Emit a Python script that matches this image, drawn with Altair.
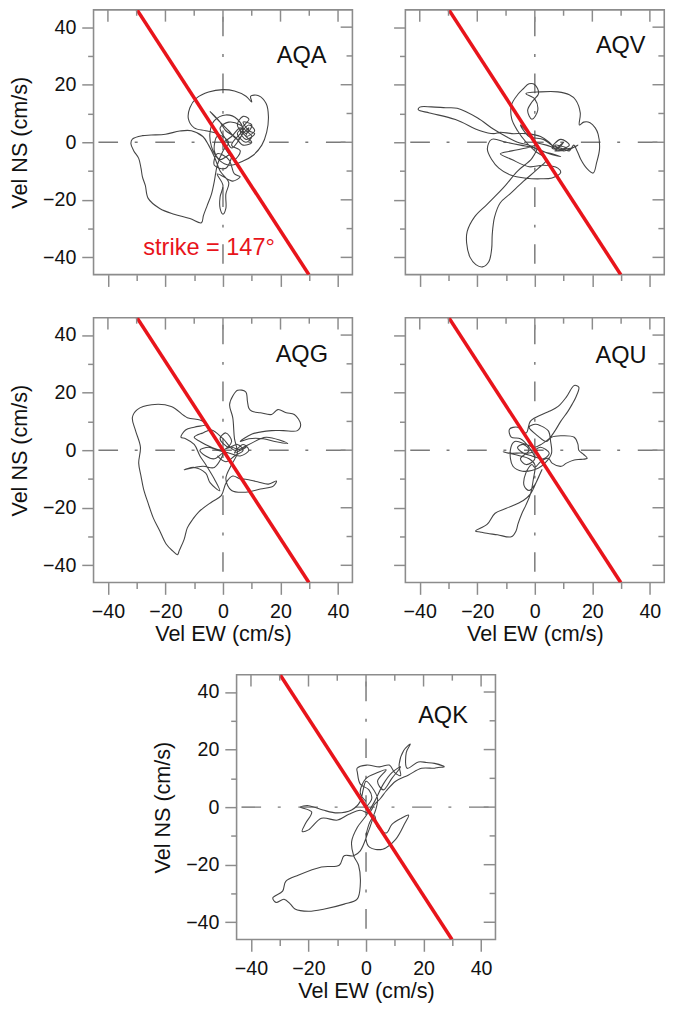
import math
import altair as alt
import pandas as pd

# ---------------- data (cm/s) ----------------
STATIONS = ["AQA", "AQV", "AQG", "AQU", "AQK"]

AQA_PATH = [
    (0, 0), (3, 2), (6, 5), (8, 3), (10, 6), (7, 7), (9, 4), (11, 3), (8, 1), (6, 4), (9, 8), (7, 9),
    (5, 6), (8, 2), (10, 0), (7, -1), (4, 2), (1, 4), (-1, 7), (-4.5, 10.7), (-2, 8), (2, 4), (5, 1),
    (7, 3), (9, 5), (8, 2), (11, 4), (9, 6), (6, 3), (3, -1), (6, -3), (4, -6), (2, -4), (-2, 2),
    (-3, -3), (-1, -6), (3, -4), (1, -9), (-3, -8), (-2, -4), (2, -6), (4, -11), (6, -12), (3.4, -13.5),
    (2, -13), (-2, -11), (0, -15), (-1, -19), (-1, -23), (0, -25), (1, -23), (1, -18), (2, -14), (-1, -10),
    (-3, -5), (-5, -1), (-7, 2), (-11, 4), (-15, 3.9), (-20, 2.8), (-25, 2.5), (-28, 2.3), (-31.5, 1.1),
    (-32, -0.5), (-31, -3), (-29.3, -5.6), (-28.5, -9), (-28, -12), (-27, -15), (-26, -19.5), (-22, -23),
    (-17, -25), (-11.5, -26.5), (-7.5, -28), (-6.8, -25.5), (-5.5, -22), (-4, -18), (-3, -13.5), (-2, -8),
    (0, -3), (2, 0), (-2, 3), (-6, 4), (-10, 5), (-12, 8), (-11.5, 12), (-9, 15.5), (-5, 17.5), (0, 18.3),
    (4, 17.8), (8, 16), (10, 14), (9.6, 16), (12.4, 16.2), (15, 13.5), (15.8, 9), (15.2, 3.5), (13.5, -1),
    (10.5, -4.5), (7, -6.5), (2.5, -8), (-1.5, -6), (-4, -1.5), (-4.5, 3.5), (-3, 7.5), (1, 9.5), (5, 8),
    (7, 4), (5, 0), (3, -2), (1, 1), (-1, 5), (2, 7), (6, 6), (8, 4), (10, 2), (8, 0), (5, 3), (7, 5),
]

AQV_PATH = [
    (0, 0), (4, -1), (8, -2), (10, 0), (7, -3), (12, -1), (9, 1), (6, -2), (13, -2), (15, -1), (10, -3),
    (7, -1), (11, -2), (8, -3), (5, 0), (2, 2), (-3, 3), (-8, 3), (-12, 3.5), (-14.3, 3), (-19, 4),
    (-27.6, 7.9), (-36.6, 10.2), (-40.5, 11.3), (-40, 12.2), (-36, 12.3), (-31, 12), (-27, 11.8),
    (-20, 8.5), (-14.3, 4.5), (-10, 2), (-6, 0), (-2, -1), (2, -3), (6, -4), (9, -5), (5, -4), (0, -2),
    (-5, -1), (-10, 0), (-15, 1), (-16.5, -2.3), (-15, -6), (-12.5, -9), (-8.7, -11.3), (-3, -12.5),
    (2, -12.7), (6, -12.4), (9, -10.5), (8, -9), (3, -8), (-2, -8.5), (-8, -6), (-12, -4), (-8, -3),
    (-3, -2), (1, -1), (-1, -5.6), (-6, -10), (-10.9, -15.8), (-16.5, -21.5), (-21, -26), (-23.5, -31),
    (-23.7, -35), (-22.5, -40), (-20.5, -42.5), (-18.2, -43.3), (-16, -41.5), (-15, -37), (-14.8, -32),
    (-14, -26), (-12, -21), (-8.7, -18), (-4, -13.6), (1.3, -9), (4, -6), (0, -3), (-3, 0), (-6, 4),
    (-8, 8), (-8.1, 13), (-6, 16.5), (-4, 18.6), (-2, 20.3), (0, 20), (1.3, 17), (-1, 14), (-2.5, 11),
    (-1, 8), (1, 11), (0, 15), (-3.1, 16.9), (2, 17.5), (8, 17.5), (12, 16.5), (14.2, 14.7), (15.8, 10.2),
    (15.5, 6), (17, 7), (19.2, 6.8), (21, 5), (22, 2.8), (22.5, -2.3), (21.5, -7), (20.3, -10.7), (18, -9),
    (16, -6), (14.7, -3), (13.5, -1), (12, -3), (9, -2), (6, -1), (3, 1), (-2, 2), (-5, 6), (-3, 4), (0, 0),
]

AQG_PATH = [
    (0, 0), (3, 1), (6, 0), (8, 1), (4, -1), (7, 2), (9, 0), (6, -2), (2, -1), (-2, 0), (-5, 1), (-8, 0),
    (-6, -2), (-3, -3), (0, -1), (-3, -6), (-7, -5.6), (-13.5, -6.8), (-10, -6), (-6, -8), (-4.5, -11.3),
    (-1.1, -14.1), (-3, -10), (-6, -5), (-8, -2), (-10, 2), (-13, 4), (-14.6, 4.5), (-13, 7), (-10, 8),
    (-5.6, 9), (-8, 10.5), (-12.4, 11.3), (-18, 15.2), (-24.8, 15.8), (-29.8, 14.1), (-31.5, 11.3),
    (-30.4, 6.8), (-28.7, 1.1), (-29.3, -4.5), (-28.5, -9), (-27.6, -13.5), (-26, -18.5), (-24.2, -23.6),
    (-22, -28), (-19.7, -32.7), (-17.5, -35), (-15.8, -36.3), (-15.2, -34.9), (-13.5, -31), (-12.4, -27),
    (-10.5, -24), (-8.4, -21.4), (-3.9, -18), (-0.6, -15.8), (1.1, -11.3), (3.4, -9), (6, -10), (7.9, -10.1),
    (12, -11), (15.8, -11.8), (18.6, -10.7), (17.5, -12.5), (13, -13.5), (7.9, -14.6), (3, -14), (1, -10),
    (3, -5), (5, -1), (4, 4), (3.4, 11.3), (2.3, 15.8), (3.5, 19), (5.1, 20.8), (7.9, 20.3), (8.5, 17),
    (9, 14.6), (10.1, 13.5), (13, 13), (16.9, 12.4), (19.1, 14.1), (22, 13), (24.8, 12.4), (27, 9),
    (25.9, 6.8), (21, 6.8), (16.9, 6.8), (10.1, 5.6), (6, 3), (9, 4), (14, 4), (18, 3), (22.5, 2.3),
    (15, 4.5), (9, 2), (4, 0), (0, 4), (-4, 7), (-7, 6), (-10, 4.5), (-8, 3), (-4, 1), (0, 0), (3, 3),
    (1, 6), (-1, 4), (2, 1), (5, 2), (7, 0), (4, -2), (1, -4), (-2, -2),
]

AQU_PATH = [
    (0, 0), (2, 1), (5, -1), (3, -3), (-1, -2), (-4, -1), (-6, 1), (-4, 2), (-2, 0), (-5, -3), (-3, -5),
    (0, -3), (-2, 1), (-5, 4), (-8.2, 4.5), (-8.8, 7.3), (-6, 8), (-3, 6), (-1.5, 10.1), (2.5, 12.4),
    (5, 13.5), (8.1, 15.2), (11, 18.5), (13.7, 22.5), (15.3, 21.9), (14.3, 18.5), (13, 16), (11.5, 13.5),
    (9, 10), (7, 6.7), (5, 4), (2.5, 2.2), (0, 1), (-3, 2), (-7, 3), (-8.5, 0), (-7.6, -5.6), (-4.3, -7.3),
    (1.3, -6.2), (4, -4), (5.8, -1.1), (5.5, 3), (4.7, 6.7), (2, 8.5), (0.2, 9), (-2, 8), (1, 5), (4, 3),
    (5.8, 4.5), (9, 5), (13.7, 4.5), (15, 2), (15.3, 0), (17, -1.5), (18.2, -2.8), (16, -3.2), (13.7, -3.4),
    (11, -4.5), (9.2, -5.6), (6, -4.5), (4.7, -2.8), (2, -4), (0, -6), (-1, -5), (-3.1, -7.9), (-3.7, -12.4),
    (-2, -14), (0, -12), (1.5, -9), (2.5, -6.7), (1, -10), (-1.5, -15.2), (-4, -17.5), (-9.9, -20.2),
    (-13.8, -21.9), (-16.6, -25.8), (-20.6, -28.1), (-19, -28.4), (-17.8, -28.7), (-13, -29.4), (-8.2, -30.1),
    (-6.5, -28), (-5.9, -25.8), (-4.5, -22), (-3.1, -19.1), (-1.5, -15.2), (-0.5, -10), (0, -5), (-2, -3),
    (-5, -2), (-11, -0.6), (-9, -1), (-5, -1), (-2, -1), (1, 0),
]

AQK_PATH = [
    (0, 0), (2, 3), (1, 6), (-2, 8), (-3, 12), (-3.1, 13.5), (0.2, 14.6), (4.7, 14), (8.1, 14.6), (10, 12),
    (12, 11), (11.5, 14.6), (13.1, 19.7), (15.4, 21.9), (14, 19), (14.3, 13.5), (18.2, 15.7), (21, 15.5),
    (23.8, 15.2), (27.2, 14), (25, 13.8), (23.8, 13.5), (19.3, 13.5), (14.8, 11.2), (10.3, 9), (7, 5.6),
    (5, 3), (3, 1), (1, -2), (-2, -1.1), (-6, -2.5), (-9.9, -4.5), (-15.5, -3.9), (-20, -7.9), (-22.2, -8.4),
    (-21, -5.6), (-18.9, -1.7), (-22.8, 0), (-20, 0.5), (-15, -1), (-10, -2), (-5, -1), (-2, 2), (-1, 6),
    (0, 9), (2, 7), (4, 3), (3, -2), (1, -6), (0, -11.2), (1.3, -14), (5.8, -14.6), (10.3, -11.2),
    (13.5, -5.6), (14.8, -2.8), (12, -4), (9, -6), (7, -9), (4, -7), (3, -3), (1, -8), (-2, -15.2),
    (-4.3, -16.9), (-7.6, -16.9), (-9.3, -20.2), (-15.5, -20.8), (-23.4, -23.6), (-27.9, -25.8), (-29, -29.2),
    (-32.4, -31.5), (-31.3, -33.1), (-28.5, -32), (-26.3, -33.7), (-24.7, -35.4), (-20, -36.2), (-14.4, -35.4),
    (-7.6, -33.7), (-3.1, -32), (-2, -27), (-2.6, -20.2), (-4.3, -16.9), (-5, -12), (-3, -7), (0, -3), (3, 2),
    (6, 8), (9, 12), (12, 14), (9, 10), (6, 6), (4, 9), (7, 13), (4, 12), (0, 10), (-2, 5), (0, 2),
]

PATHS = [AQA_PATH, AQV_PATH, AQG_PATH, AQU_PATH, AQK_PATH]
NAME_X = [36.0, 38.5, 36.5, 38.8, 35.4]     # right edge of station label
NAME_Y = [27.7, 31.0, 30.7, 30.3, 29.2]     # baseline of station label

STRIKE_DEG = 147
STRIKE_LABEL = "strike = 147°"
STRIKE_LABEL_X = [-27.7]
STRIKE_LABEL_Y = [-39.0]

X_DOMAIN = [-45, 45]
Y_DOMAIN = [-46, 46]
MAJOR = [-40, -20, 0, 20, 40]
MINOR = [-30, -10, 10, 30]
X_TITLE = "Vel EW (cm/s)"
Y_TITLE = "Vel NS (cm/s)"

# ---------------- style ----------------
W, H = 264, 270
MAJ_LEN, MIN_LEN = 12, 6
FONT = "Liberation Sans"
GREY = "#8c8c8c"
DASH_GREY = "#7a7a7a"
RED = "#e8141b"
TXT = "#111111"

xs = alt.Scale(domain=X_DOMAIN, nice=False, zero=False)
ys = alt.Scale(domain=Y_DOMAIN, nice=False, zero=False)


def make_axis(orient, values, size, labels=False, title=None, pad=6, tpad=8):
    kw = dict(orient=orient, values=values, tickSize=size, domain=False, grid=False,
              labels=labels, tickColor=GREY, tickWidth=1.5, title=title, minExtent=0)
    if labels:
        kw.update(labelFont=FONT, labelFontSize=20, labelColor=TXT, labelPadding=pad)
    if title:
        kw.update(titleFont=FONT, titleFontSize=22, titleFontWeight="normal",
                  titleColor=TXT, titlePadding=tpad)
    return alt.Axis(**kw)


def axis_layer(xaxis, yaxis):
    return alt.Chart(pd.DataFrame({"v": [0]})).mark_point(opacity=0).encode(
        x=alt.X("v:Q", scale=xs, axis=xaxis),
        y=alt.Y("v:Q", scale=ys, axis=yaxis),
    )


def inner_ticks(values, length):
    d = pd.DataFrame({"t": values})
    top = alt.Chart(d).mark_rule(color=GREY, strokeWidth=1.5).encode(
        x=alt.X("t:Q", scale=xs, axis=None), y=alt.value(0), y2=alt.value(length))
    right = alt.Chart(d).mark_rule(color=GREY, strokeWidth=1.5).encode(
        y=alt.Y("t:Q", scale=ys, axis=None), x=alt.value(W - length), x2=alt.value(W))
    return [top, right]


def panel(idx, xlab, ylab, note=False, extend_right=0):
    df = pd.DataFrame(PATHS[idx], columns=["ew", "ns"])
    df["i"] = range(len(df))

    zero = pd.DataFrame({"v": [0]})
    dash = [20, 18, 3, 17]
    vline = alt.Chart(zero).mark_rule(color=DASH_GREY, strokeWidth=1.5, strokeDash=dash,
                                      strokeDashOffset=51).encode(
        x=alt.X("v:Q", scale=xs, axis=None))
    hline = alt.Chart(zero).mark_rule(color=DASH_GREY, strokeWidth=1.5, strokeDash=dash,
                                      strokeDashOffset=51).encode(
        y=alt.Y("v:Q", scale=ys, axis=None))

    trace = alt.Chart(df).mark_line(color="#444444", strokeWidth=1.1, clip=True,
                                    interpolate="catmull-rom", strokeJoin="round").encode(
        x=alt.X("ew:Q", scale=xs, axis=None),
        y=alt.Y("ns:Q", scale=ys, axis=None),
        order="i:Q",
    )

    # strike line through the origin, ending exactly on the top and bottom frame
    az = math.radians(STRIKE_DEG)
    t = Y_DOMAIN[1] / abs(math.cos(az))
    sdf = pd.DataFrame({"ew": [-t * math.sin(az), t * math.sin(az)],
                        "ns": [-t * math.cos(az), t * math.cos(az)],
                        "i": [0, 1]})
    strike = alt.Chart(sdf).mark_line(color=RED, strokeWidth=3.6, clip=True).encode(
        x=alt.X("ew:Q", scale=xs, axis=None),
        y=alt.Y("ns:Q", scale=ys, axis=None),
        order="i:Q",
    )

    ndf = pd.DataFrame({"x": [NAME_X[idx]], "y": [NAME_Y[idx]], "t": [STATIONS[idx]]})
    name = alt.Chart(ndf).mark_text(font=FONT, fontSize=24, color=TXT, align="right",
                                    baseline="alphabetic").encode(
        x=alt.X("x:Q", scale=xs, axis=None),
        y=alt.Y("y:Q", scale=ys, axis=None),
        text="t:N",
    )

    layers = [vline, hline, trace, strike, name]
    if note:
        ldf = pd.DataFrame({"x": STRIKE_LABEL_X, "y": STRIKE_LABEL_Y, "t": [STRIKE_LABEL]})
        layers.append(alt.Chart(ldf).mark_text(font=FONT, fontSize=24, color=RED, align="left",
                                               baseline="alphabetic").encode(
            x=alt.X("x:Q", scale=xs, axis=None),
            y=alt.Y("y:Q", scale=ys, axis=None),
            text="t:N",
        ))

    layers += inner_ticks(MAJOR, MAJ_LEN) + inner_ticks(MINOR, MIN_LEN)

    if extend_right:
        # invisible layout helper so the bottom panel sits where it does in the figure
        layers.append(alt.Chart(zero).mark_rule(opacity=0).encode(
            x=alt.value(W + extend_right), y=alt.value(0), y2=alt.value(1)))

    layers += [
        axis_layer(make_axis("bottom", MAJOR, MAJ_LEN, labels=xlab,
                             title=X_TITLE if xlab else None, pad=8, tpad=2),
                   make_axis("left", MAJOR, MAJ_LEN, labels=ylab,
                             title=Y_TITLE if ylab else None, pad=6, tpad=11)),
        axis_layer(make_axis("bottom", MINOR, MIN_LEN), make_axis("left", MINOR, MIN_LEN)),
    ]
    return alt.layer(*layers).resolve_axis(x="independent", y="independent").properties(
        width=W, height=H)


p1 = panel(0, xlab=False, ylab=True, note=True)
p2 = panel(1, xlab=False, ylab=False)
p3 = panel(2, xlab=True, ylab=True)
p4 = panel(3, xlab=True, ylab=False)
p5 = panel(4, xlab=True, ylab=True, extend_right=27)

chart = alt.vconcat(
    alt.hconcat(p1, p2, spacing=38),
    alt.hconcat(p3, p4, spacing=38),
    p5,
    spacing=28,
    center=True,
).configure_view(stroke=GREY, strokeWidth=1.6).properties(
    padding={"left": 0, "top": -10, "right": 0, "bottom": 0})

chart.save("out.html", embed_options={"renderer": "svg", "actions": False})
